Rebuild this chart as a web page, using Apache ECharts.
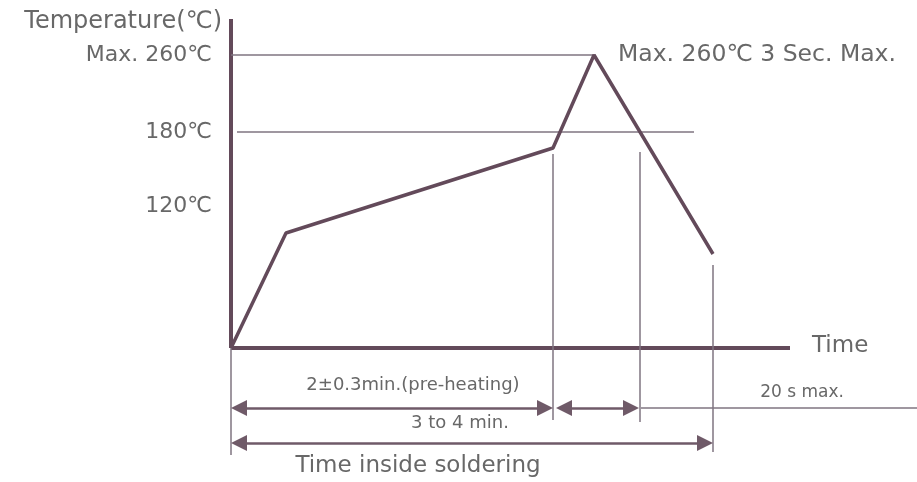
<!DOCTYPE html>
<html>
<head>
<meta charset="utf-8">
<script src="https://cdn.jsdelivr.net/npm/echarts@6/dist/echarts.min.js"></script>
<style>html,body{margin:0;padding:0;background:#fff}#c{width:917px;height:482px}</style>
</head>
<body>
<div id="c"></div>
<script>
// Schematic reflow profile (diagram units: x = time position, y = height level)
const profileX = [0, 55, 322, 363, 482];
const profileY = [0, 115, 200, 293, 94];
const tempLabels = ['Max. 260℃', '180℃', '120℃'];
const tempLevels = [293, 216, 142];
const timeAxisEnd = 559;
const refLineY = [293, 216];
const refLineStart = [0, 6];
const refLineEnd = [363, 463];
const guideX = [322, 409, 482];
const guideTop = [194, 196, 83];
const guideBottom = [-72, -74, -104];
const axisExtBottom = -107;
const spanRow1Y = -60;
const spanRow2Y = -95;
const preheatSpan = [0, 322];
const reflowSpan = [325, 408];
const tailSpan = [410, 686];
const totalSpan = [0, 482];
const spanTexts = ['2±0.3min.(pre-heating)', '20 s max.', '3 to 4 min.', 'Time inside soldering'];
const peakNote = 'Max. 260℃ 3 Sec. Max.';

const FONT = 'DejaVu Sans';
const DARK = '#634a5a';
const THIN = '#7f7480';
const TXT = '#686868';
const HEAD = 16; // arrow head size

const chart = echarts.init(document.getElementById('c'), null, {renderer: 'canvas'});

const lineSeries = (data, width, color) => ({
  type: 'line', data, symbol: 'none', clip: false, silent: true,
  lineStyle: {width, color}, animation: false, z: 3
});
const note = (coord, text, size, align) => ({
  coord, label: {show: true, formatter: text, position: 'inside', align: align || 'center',
    verticalAlign: 'middle', fontSize: size, color: TXT, fontFamily: FONT}
});
// arrow whose head tips sit on the span ends (heads are centred on the segment ends)
const arrow = (span, y) => ({coords: [[span[0] + HEAD / 2, y], [span[1] - HEAD / 2, y]]});

const series = [];
series.push(Object.assign(lineSeries(profileX.map((x, i) => [x, profileY[i]]), 3.5, DARK), {z: 5,
  markPoint: {
    symbol: 'circle', symbolSize: 0, silent: true, animation: false,
    data: [
      note([387, 293], peakNote, 23.5, 'left'),
      note([581, 2], 'Time', 23, 'left'),
      note([182, -37], spanTexts[0], 18),
      note([571, -45], spanTexts[1], 17),
      note([229, -75], spanTexts[2], 18),
      note([187, -118], spanTexts[3], 23)
    ]
  }
}));
// Axes (thick) and the thin extension below the time axis
series.push(lineSeries([[0, 0], [timeAxisEnd, 0]], 4, DARK));
series.push(lineSeries([[0, 0], [0, 329]], 4, DARK));
series.push(lineSeries([[0, 0], [0, axisExtBottom]], 1.5, THIN));
// Horizontal reference levels
refLineY.forEach((y, i) => series.push(lineSeries([[refLineStart[i], y], [refLineEnd[i], y]], 1.5, THIN)));
// Vertical guides
guideX.forEach((x, i) => series.push(lineSeries([[x, guideTop[i]], [x, guideBottom[i]]], 1.5, THIN)));
// Tail line of row 1
series.push(lineSeries([[tailSpan[0], spanRow1Y], [tailSpan[1], spanRow1Y]], 1.5, THIN));
// Dimension arrows
series.push({
  type: 'lines', coordinateSystem: 'cartesian2d', clip: false, silent: true, animation: false, z: 4,
  symbol: ['triangle', 'triangle'], symbolSize: HEAD,
  lineStyle: {color: '#6f5a68', width: 2.5, opacity: 1},
  itemStyle: {color: '#6f5a68'},
  data: [
    arrow(preheatSpan, spanRow1Y),
    arrow(reflowSpan, spanRow1Y),
    arrow(totalSpan, spanRow2Y)
  ]
});

chart.setOption({
  animation: false,
  backgroundColor: '#ffffff',
  textStyle: {fontFamily: FONT},
  grid: {left: 231, right: 0, top: 19, bottom: 0, containLabel: false},
  xAxis: {
    type: 'value', min: 0, max: 686,
    axisLine: {show: false}, axisTick: {show: false}, axisLabel: {show: false}, splitLine: {show: false}
  },
  yAxis: {
    type: 'value', min: -134, max: 329,
    axisLine: {show: false}, axisTick: {show: false}, splitLine: {show: false},
    axisLabel: {
      customValues: tempLevels,
      formatter: v => tempLabels[tempLevels.indexOf(v)],
      margin: 19, fontSize: 22, color: TXT, fontFamily: FONT
    },
    name: 'Temperature(℃)', nameLocation: 'end', nameGap: -3,
    nameTextStyle: {fontSize: 24, color: TXT, fontFamily: FONT, align: 'right', verticalAlign: 'middle', padding: [0, 9, 0, 0]}
  },
  series
});
</script>
</body>
</html>
